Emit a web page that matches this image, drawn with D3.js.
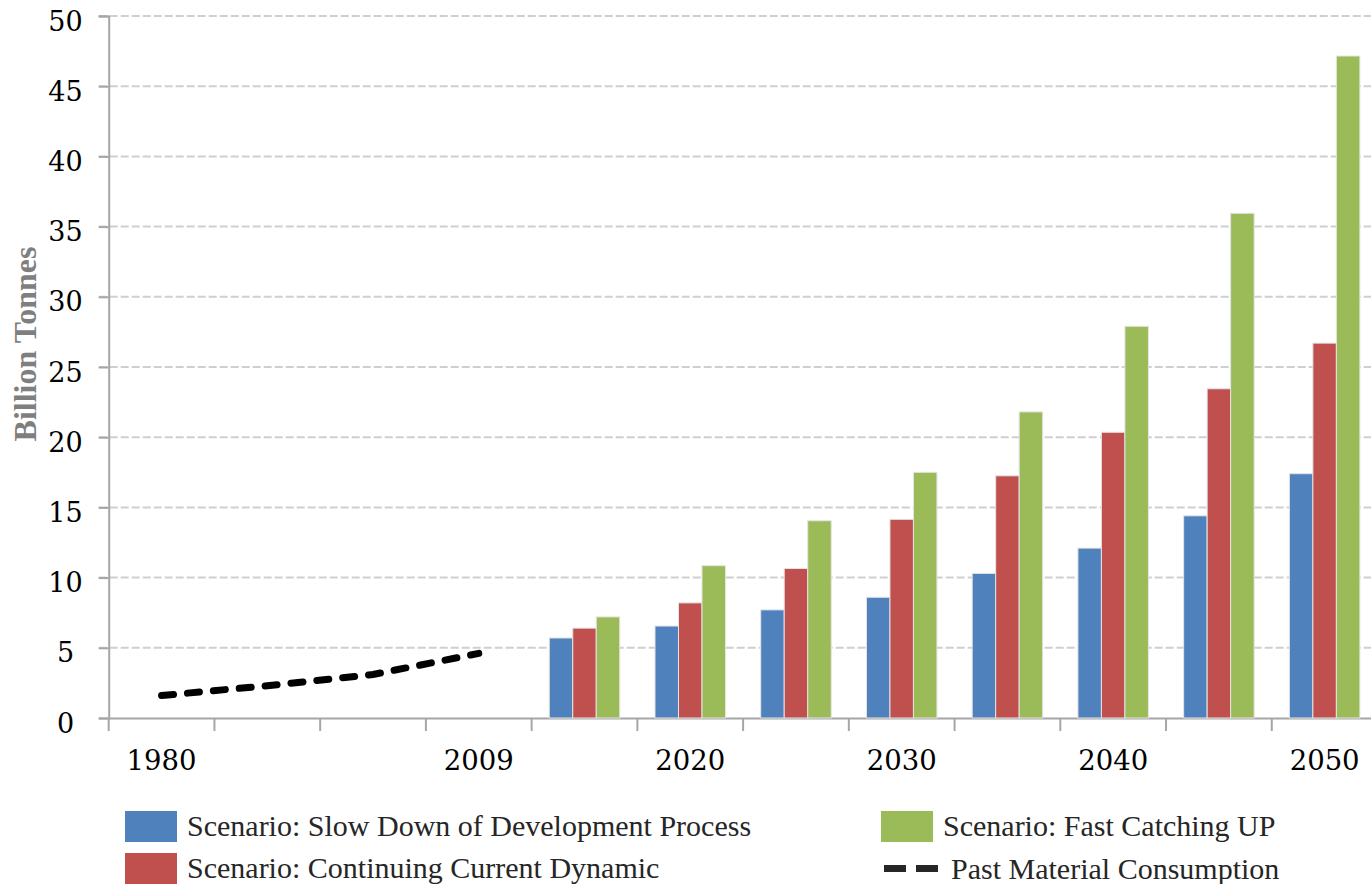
<!DOCTYPE html>
<html>
<head>
<meta charset="utf-8">
<script src="https://cdn.jsdelivr.net/npm/d3@7"></script>
<style>
  html, body { margin: 0; padding: 0; background: #fff; }
  svg { display: block; }
</style>
</head>
<body>
<svg id="chart" width="1371" height="884"></svg>
<script>
// Category slots along the x axis (12 slots, only some carry a label)
const slots = d3.range(12);
const tickLabels = ["1980", "", "", "2009", "", "2020", "", "2030", "", "2040", "", "2050"];

// Historical consumption (first four slots)
const pastSlots = [0, 1, 2, 3];
const pastValues = [1.6, 2.3, 3.1, 4.6];

// Scenario projections (last eight slots)
const scenarioSlots = [4, 5, 6, 7, 8, 9, 10, 11];
const slowDown = [5.7, 6.55, 7.7, 8.6, 10.3, 12.1, 14.4, 17.4];
const continuing = [6.4, 8.2, 10.65, 14.15, 17.25, 20.35, 23.45, 26.7];
const fastCatching = [7.2, 10.85, 14.05, 17.5, 21.8, 27.9, 35.95, 47.15];

const seriesNames = [
  "Scenario: Slow Down of Development Process",
  "Scenario: Continuing Current Dynamic",
  "Scenario: Fast Catching UP"
];
const lineName = "Past Material Consumption";
const yTicks = [0, 5, 10, 15, 20, 25, 30, 35, 40, 45, 50];
const colors = ["#4F81BD", "#C0504D", "#9BBB59"];

const svg = d3.select("#chart");
const plot = { left: 108.7, right: 1377.5, top: 16, bottom: 718 };

const x = d3.scaleBand().domain(slots).range([plot.left, plot.right]).paddingInner(0).paddingOuter(0);
const xs = d3.scaleBand().domain([0, 1, 2]).range([0, x.bandwidth()]).paddingInner(0).paddingOuter(0.75);
const y = d3.scaleLinear().domain([0, 50]).range([plot.bottom, plot.top]);

const tickFont = "'DejaVu Serif', serif";
const legendFont = "'Liberation Serif', 'Times New Roman', serif";

// Horizontal dashed gridlines
svg.append("g")
  .selectAll("line")
  .data(yTicks.filter(d => d > 0))
  .join("line")
  .attr("x1", plot.left - 10)
  .attr("x2", plot.right)
  .attr("y1", d => y(d))
  .attr("y2", d => y(d))
  .attr("stroke", "#cfcfcf")
  .attr("stroke-width", 2)
  .attr("stroke-dasharray", "8,3");

// Y axis
const yAxis = svg.append("g")
  .attr("transform", `translate(${plot.left},0)`)
  .call(d3.axisLeft(y).tickValues(yTicks).tickSize(10).tickFormat(d3.format("d")));
yAxis.select(".domain").attr("stroke", "#a6a6a6").attr("stroke-width", 2);
yAxis.selectAll(".tick line").attr("stroke", "#a6a6a6").attr("stroke-width", 2);
yAxis.selectAll(".tick text")
  .attr("x", 65.5 - plot.left)
  .attr("dy", null)
  .attr("y", 14)
  .attr("text-anchor", "middle")
  .attr("fill", "#000")
  .style("font-family", tickFont)
  .style("font-size", "27px");

// X axis
const xAxis = svg.append("g")
  .attr("transform", `translate(0,${plot.bottom})`)
  .call(d3.axisBottom(x).tickSize(0).tickFormat(i => tickLabels[i]));
xAxis.select(".domain").attr("stroke", "#a6a6a6").attr("stroke-width", 2);
xAxis.selectAll(".tick text")
  .attr("dy", null)
  .attr("y", 52)
  .attr("fill", "#000")
  .style("font-family", tickFont)
  .style("font-size", "27.5px");
// Tick marks at slot boundaries
svg.append("g")
  .selectAll("line")
  .data(slots)
  .join("line")
  .attr("x1", d => x(d))
  .attr("x2", d => x(d))
  .attr("y1", plot.bottom)
  .attr("y2", plot.bottom + 13)
  .attr("stroke", "#a6a6a6")
  .attr("stroke-width", 2);

// Grouped bars
const barSeries = [slowDown, continuing, fastCatching];
const barData = [];
barSeries.forEach((vals, s) => {
  vals.forEach((v, i) => barData.push({ slot: scenarioSlots[i], s, v }));
});
svg.append("g")
  .selectAll("rect")
  .data(barData)
  .join("rect")
  .attr("x", d => x(d.slot) + xs(d.s))
  .attr("width", xs.bandwidth())
  .attr("y", d => y(d.v))
  .attr("height", d => y(0) - y(d.v))
  .attr("fill", d => colors[d.s])
  .attr("stroke", "#e4e4e4")
  .attr("stroke-width", 1);

// Past consumption dashed line
const line = d3.line()
  .x((d, i) => x(pastSlots[i]) + x.bandwidth() / 2)
  .y(d => y(d));
svg.append("path")
  .datum(pastValues)
  .attr("d", line)
  .attr("fill", "none")
  .attr("stroke", "#000")
  .attr("stroke-width", 7)
  .attr("stroke-linecap", "round")
  .attr("stroke-dasharray", "12,14");

// Axis title
svg.append("text")
  .attr("transform", "translate(36,344) rotate(-90)")
  .attr("text-anchor", "middle")
  .attr("fill", "#7f7f7f")
  .style("font-family", legendFont)
  .style("font-weight", "bold")
  .style("font-size", "32px")
  .text("Billion Tonnes");

// Legend
const legendItems = [
  { name: seriesNames[0], type: "rect", color: colors[0], x: 125, y: 811 },
  { name: seriesNames[1], type: "rect", color: colors[1], x: 125, y: 853 },
  { name: seriesNames[2], type: "rect", color: colors[2], x: 881, y: 811 },
  { name: lineName, type: "line", color: "#262626", x: 881, y: 853 }
];
const legend = svg.append("g");
legendItems.forEach(item => {
  const g = legend.append("g");
  if (item.type === "rect") {
    g.append("rect")
      .attr("x", item.x).attr("y", item.y)
      .attr("width", 52).attr("height", 31)
      .attr("fill", item.color);
    g.append("text")
      .attr("x", item.x + 62).attr("y", item.y + 25)
      .attr("fill", "#262626")
      .style("font-family", legendFont)
      .style("font-size", "30px")
      .text(item.name);
  } else {
    g.append("line")
      .attr("x1", item.x + 3).attr("x2", item.x + 59)
      .attr("y1", item.y + 15.5).attr("y2", item.y + 15.5)
      .attr("stroke", item.color)
      .attr("stroke-width", 7)
      .attr("stroke-dasharray", "22,10");
    g.append("text")
      .attr("x", item.x + 70).attr("y", item.y + 26)
      .attr("fill", "#262626")
      .style("font-family", legendFont)
      .style("font-size", "30px")
      .text(item.name);
  }
});
</script>
</body>
</html>
